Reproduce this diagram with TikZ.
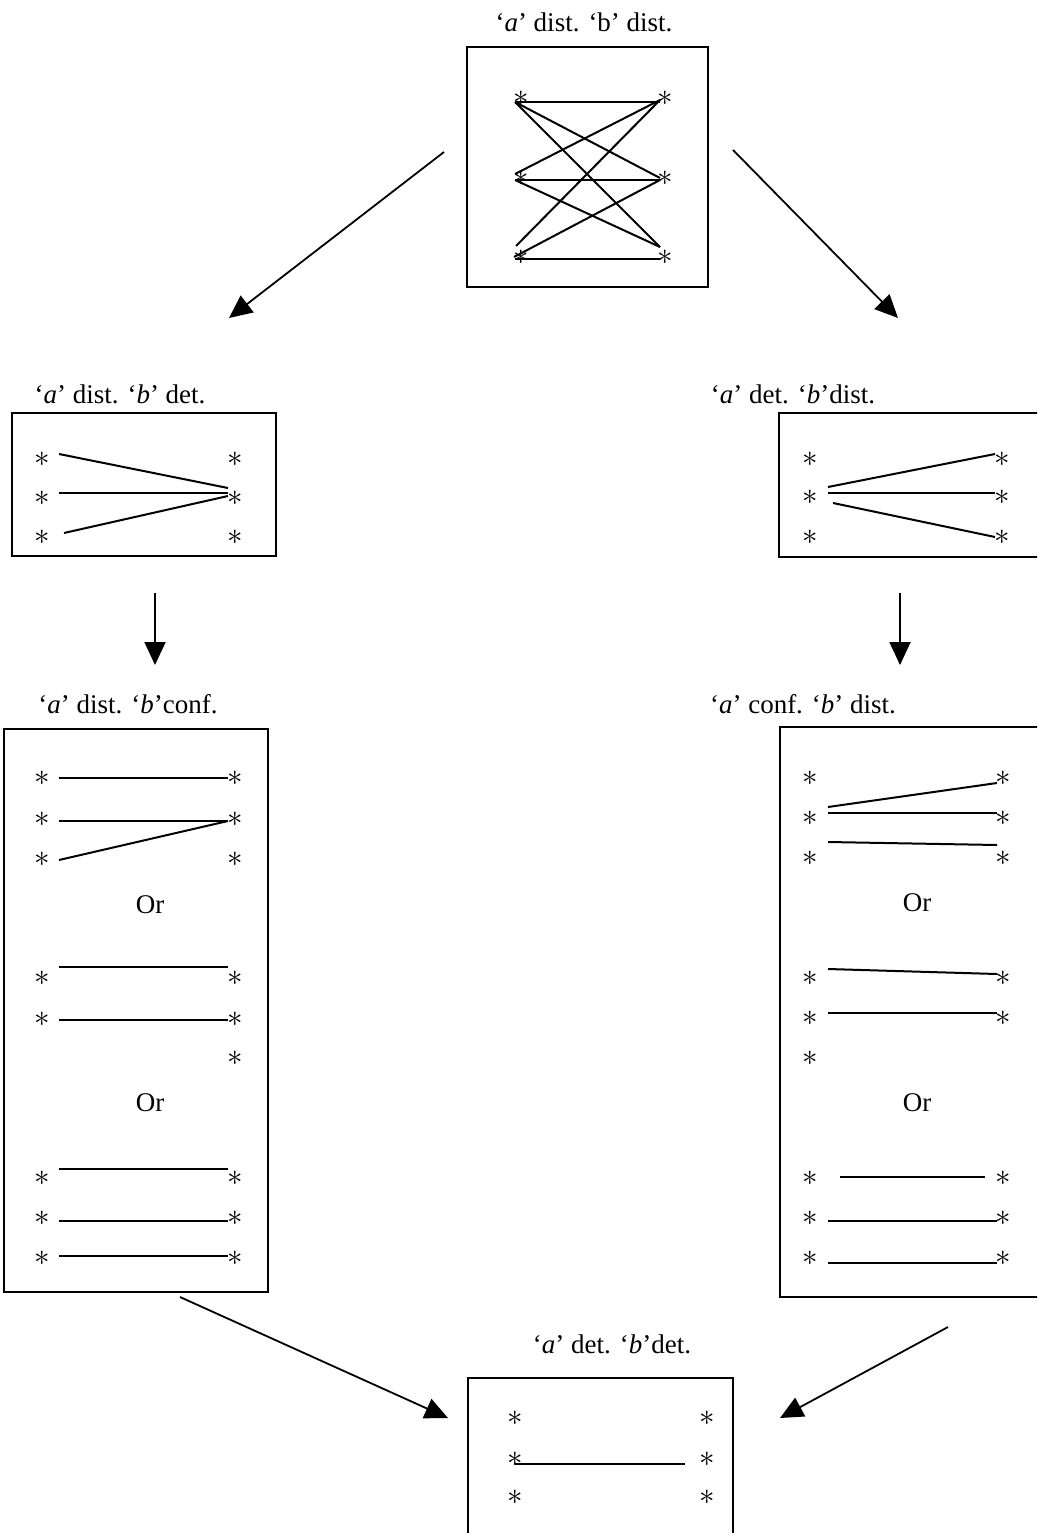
\documentclass[tikz,border=0pt]{standalone}
\usepackage{fontspec}
\usepackage{graphicx}
\setmainfont{Liberation Serif}
\usetikzlibrary{arrows.meta}
\newcommand{\bigast}{\scalebox{3.1}{$\ast$}}
\begin{document}
\begin{tikzpicture}[x=1pt,y=-1pt,
  box/.style={line width=2.2pt},
  ln/.style={line width=2pt},
  ast/.style={inner sep=0pt},
  lbl/.style={anchor=base, inner sep=0pt, font=\fontsize{27}{30}\selectfont},
  ortext/.style={inner sep=0pt, font=\fontsize{27}{30}\selectfont},
  arr/.style={line width=1.8pt, -{Triangle[length=23pt,width=21pt]}}]
\useasboundingbox (0,0) rectangle (1037,1533);
\clip (0,0) rectangle (1037,1533);

% ---------- labels ----------
\node[lbl] (ltop) at (584,32) {‘\textit{a}’ dist. ‘b’ dist.};
\node[lbl] (lld)  at (120,403) {‘\textit{a}’ dist. ‘\textit{b}’ det.};
\node[lbl] (lrd)  at (793,403) {‘\textit{a}’ det. ‘\textit{b}’dist.};
\node[lbl] (llc)  at (128,713) {‘\textit{a}’ dist. ‘\textit{b}’conf.};
\node[lbl] (lrc)  at (803,713) {‘\textit{a}’ conf. ‘\textit{b}’ dist.};
\node[lbl] (lbot) at (612,1353) {‘\textit{a}’ det. ‘\textit{b}’det.};

% ---------- boxes ----------
\draw[box] (467,47) rectangle (708,287);
\draw[box] (12,413) rectangle (276,556);
\draw[box] (779,413) rectangle (1045,557);
\draw[box] (4,729) rectangle (268,1292);
\draw[box] (780,727) rectangle (1045,1297);
\draw[box] (468,1378) rectangle (733,1545);

% ---------- top box ----------
\foreach \y [count=\i] in {98,178,257} {
  \node[ast] (tl\i) at (521,\y) {\bigast};
  \node[ast] (tr\i) at (665,\y) {\bigast};
}
\draw[ln] (515,102) -- (660,102);
\draw[ln] (515,102) -- (660,178);
\draw[ln] (515,102) -- (660,247);
\draw[ln] (660,100) -- (515,174);
\draw[ln] (660,100) -- (516,246);
\draw[ln] (515,180) -- (660,180);
\draw[ln] (515,180) -- (660,247);
\draw[ln] (514,257) -- (660,180);
\draw[ln] (515,259) -- (660,259);

% ---------- left det box ----------
\foreach \y [count=\i] in {459,498,537} {
  \node[ast] (dl\i) at (42,\y) {\bigast};
  \node[ast] (dr\i) at (235,\y) {\bigast};
}
\draw[ln] (59,454) -- (228,488);
\draw[ln] (59,493) -- (228,493);
\draw[ln] (64,533) -- (228,496);

% ---------- right det box ----------
\foreach \y [count=\i] in {459,497,537} {
  \node[ast] (el\i) at (810,\y) {\bigast};
  \node[ast] (er\i) at (1002,\y) {\bigast};
}
\draw[ln] (828,487) -- (995,454);
\draw[ln] (828,493) -- (995,493);
\draw[ln] (833,503) -- (995,537);

% ---------- left conf box ----------
\foreach \y [count=\i] in {778,819,859,978,1019,1178,1218,1258} {
  \node[ast] (cl\i) at (42,\y) {\bigast};
}
\foreach \y [count=\i] in {778,819,859,978,1019,1058,1178,1218,1258} {
  \node[ast] (cr\i) at (235,\y) {\bigast};
}
\node[ortext] (or1) at (150,905) {Or};
\node[ortext] (or2) at (150,1103) {Or};
\draw[ln] (59,778) -- (228,778);
\draw[ln] (59,821) -- (228,821);
\draw[ln] (59,860) -- (228,821);
\draw[ln] (59,967) -- (228,967);
\draw[ln] (59,1020) -- (228,1020);
\draw[ln] (59,1169) -- (228,1169);
\draw[ln] (59,1221) -- (228,1221);
\draw[ln] (59,1256) -- (228,1256);

% ---------- right conf box ----------
\foreach \y [count=\i] in {778,818,858,978,1018,1058,1178,1218,1258} {
  \node[ast] (fl\i) at (810,\y) {\bigast};
}
\foreach \y [count=\i] in {778,818,858,978,1018,1178,1218,1258} {
  \node[ast] (fr\i) at (1003,\y) {\bigast};
}
\node[ortext] (or3) at (917,903) {Or};
\node[ortext] (or4) at (917,1103) {Or};
\draw[ln] (828,807) -- (997,783);
\draw[ln] (828,813) -- (997,813);
\draw[ln] (828,842) -- (997,845);
\draw[ln] (828,969) -- (997,974);
\draw[ln] (828,1013) -- (997,1013);
\draw[ln] (840,1177) -- (985,1177);
\draw[ln] (828,1221) -- (997,1221);
\draw[ln] (828,1263) -- (997,1263);

% ---------- bottom box ----------
\foreach \y [count=\i] in {1418,1459,1497} {
  \node[ast] (bl\i) at (515,\y) {\bigast};
  \node[ast] (br\i) at (707,\y) {\bigast};
}
\draw[ln] (515,1464) -- (685,1464);

% ---------- arrows ----------
\coordinate (a1s) at (444,152);  \coordinate (a1e) at (229,318);
\coordinate (a2s) at (733,150);  \coordinate (a2e) at (898,318);
\coordinate (a3s) at (155,593);  \coordinate (a3e) at (155,665);
\coordinate (a4s) at (900,593);  \coordinate (a4e) at (900,665);
\coordinate (a5s) at (180,1297); \coordinate (a5e) at (448,1418);
\coordinate (a6s) at (948,1327); \coordinate (a6e) at (780,1418);
\draw[arr] (a1s) -- (a1e);
\draw[arr] (a2s) -- (a2e);
\draw[arr] (a3s) -- (a3e);
\draw[arr] (a4s) -- (a4e);
\draw[arr] (a5s) -- (a5e);
\draw[arr] (a6s) -- (a6e);
\end{tikzpicture}
\end{document}
